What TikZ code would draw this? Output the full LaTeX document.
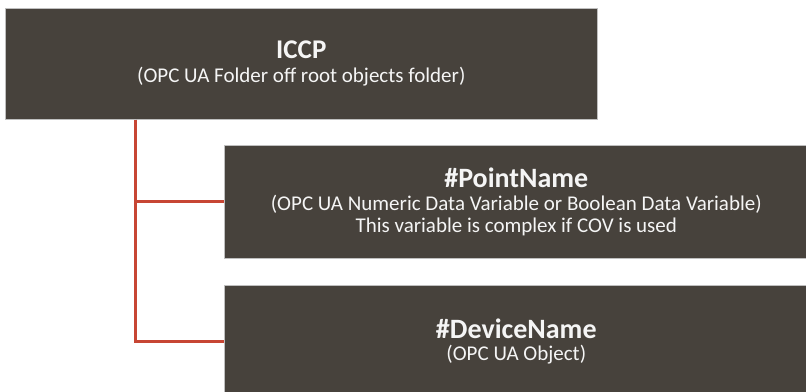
\documentclass[tikz,border=0pt]{standalone}
\usepackage{fontspec}
\setmainfont{Carlito}
\usepackage{xcolor}
\definecolor{boxbrown}{HTML}{47423C}
\definecolor{oraclered}{HTML}{C74634}

\begin{document}
\begin{tikzpicture}[x=1pt,y=-1pt,
    box/.style={draw=black!25, line width=0.6pt, fill=boxbrown, text=white!96!black,
        anchor=north west, align=center, inner sep=0pt,
        font=\fontsize{21}{22}\selectfont},
    link/.style={draw=oraclered, line width=3pt}]
    \useasboundingbox (0,0) rectangle (806,391);
    \clip (0,0) rectangle (806,391);
    % boxes
    \node[box, minimum width=592pt, minimum height=111pt] (iccp) at (5,8)
        {{\fontsize{27}{28}\selectfont\bfseries ICCP}\\[2pt]
         (OPC UA Folder off root objects folder)};
    \node[box, minimum width=584pt, minimum height=113pt] (point) at (224,145)
        {{\fontsize{28}{29}\selectfont\bfseries \#PointName}\\[1.5pt]
         (OPC UA Numeric Data Variable or Boolean Data Variable)\\
         This variable is complex if COV is used};
    \node[box, minimum width=584pt, minimum height=113pt] (device) at (224,285)
        {{\fontsize{28}{29}\selectfont\bfseries \#DeviceName}\\[0pt]
         (OPC UA Object)};
    % tree lines
    \coordinate (trunk) at (135.5,119.5);
    \draw[link] (trunk) |- (point.west);
    \draw[link] (trunk) |- (device.west);
\end{tikzpicture}
\end{document}
